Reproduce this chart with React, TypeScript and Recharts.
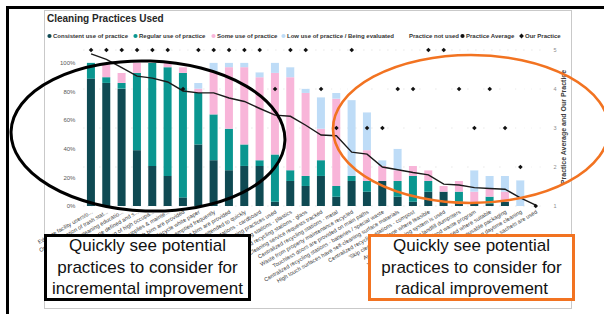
import React from 'react';
import { ComposedChart, Bar, Line, Scatter, XAxis, YAxis, CartesianGrid } from 'recharts';

const practices = [
  'Educate facility users/o...',
  'Optimize location of trash stat...',
  'Provide cleaning educatio...',
  'Cleaning scope defined and s...',
  'Increased cleaning of high occupa...',
  'Cleaning supplies & mainte...',
  'Trash bins are provided',
  'Recycle white paper',
  'Trash emptied frequently',
  'Recycling bins are provided',
  'Spills are attended to quickly',
  'Recycling stations - cardboard',
  'Green cleaning practices used',
  'Recycling stations - plastics',
  'Centralized recycling stations - glass',
  'Cleaning service requests tracked',
  'Centralized recycling stations - metal',
  'Waste from property maintenance recycled',
  'Touchless doors are provided on main paths',
  'Centralized recycling stations - batteries / special waste',
  'High touch surfaces have self-cleaning surface materials',
  'Centralized recycling stations - compost',
  "'Skip cleaning' is done where feasible",
  'Automated dispensing system is used',
  'Volume-based pricing for landfill dumpsters',
  'Organic food waste program',
  'Microfiber cloths used where suitable',
  'Supplies delivered in reusable packaging',
  'Cleaning scheduled during daytime cleaning',
  'Cleaning chemical concentrate sachets are used',
];

// % of respondents per level of use
const consistentUse = [89, 86, 82, 39, 28, 21, 6, 43, 32, 25, 28, 28, 3, 17.5, 14, 21, 6.5, 17.5, 10, 17.5, 6.5, 3, 10, 10, 3, 2, 1.5, 3, 0, 0];
const regularUse = [11, 4, 4, 54, 72, 76, 87, 36, 32, 29, 15, 4, 33, 7.5, 7, 11, 7.5, 3.5, 7.5, 0, 11, 18, 7.5, 0, 7, 0, 5, 0, 0, 0];
const someUse = [0, 10, 7, 7, 0, 3, 4, 3, 30, 43, 54, 58, 57, 65, 58, 22, 61, 0, 21.5, 10.5, 7.5, 7, 7.5, 4, 7.5, 8, 5.5, 7, 0, 0];
const lowUse = [0, 0, 0, 0, 0, 0, 0, 4, 6, 3, 3, 3.5, 7, 7, 3, 22, 4, 53, 26.5, 4, 15, 0, 0, 0, 0, 15, 9, 11, 18, 0];
const notUsed = [0, 0, 7, 0, 0, 0, 3, 14, 0, 0, 0, 6.5, 0, 3, 18, 24, 21, 26, 34.5, 68, 60, 72, 75, 86, 82.5, 75, 79, 79, 82, 100];

// score 1..5
const practiceAverage = [4.9, 4.76, 4.55, 4.33, 4.28, 4.18, 3.95, 3.9, 3.9, 3.77, 3.68, 3.5, 3.33, 3.3, 3.07, 2.82, 2.8, 2.38, 2.33, 2.0, 1.93, 1.86, 1.8, 1.56, 1.54, 1.47, 1.45, 1.43, 1.21, 1.02];
const ourPractice = [5, 5, 5, 5, 5, 5, 4, 5, 5, 5, 5, 5, 4, 5, 5, 4, 3, 5, 3, 3, 4, 4, 5, 5, 4, 3, 4, 3, 2, 1];

const pctTicks = [0, 20, 40, 60, 80, 100];
const scoreTicks = [1, 2, 3, 4, 5];

const DARK = '#0F4A53';
const TEAL = '#0A9690';
const PINK = '#F8B5D9';
const BLUE = '#BEDCF7';
const ORANGE = '#F27321';
const FONT = '"Liberation Sans", Arial, sans-serif';

const data = practices.map((name, i) => ({
  name,
  consistent: consistentUse[i],
  regular: regularUse[i],
  some: someUse[i],
  low: lowUse[i],
  none: notUsed[i],
  avg: practiceAverage[i],
  ours: ourPractice[i],
}));

const legendItems = [
  { label: 'Consistent use of practice', color: DARK, marker: 'circle', left: 47 },
  { label: 'Regular use of practice', color: TEAL, marker: 'circle', left: 133 },
  { label: 'Some use of practice', color: PINK, marker: 'circle', left: 211 },
  { label: 'Low use of practice / Being evaluated', color: BLUE, marker: 'circle', left: 281 },
  { label: 'Practice not used', color: '#ffffff', marker: 'circle', left: 403 },
  { label: 'Practice Average', color: '#111', marker: 'circle', left: 460 },
  { label: 'Our Practice', color: '#111', marker: 'diamond', left: 519 },
];

const XTick = ({ x, y, payload }: any) => {
  const ax = x + 2;
  const ay = y + 5;
  return (
    <text x={ax} y={ay} transform={`rotate(-30 ${ax} ${ay})`} textAnchor="end" fontSize={5.6} fill="#404040" fontFamily={FONT}>
      {payload.value}
    </text>
  );
};

const Diamond = ({ cx, cy }: any) => {
  if (cx == null || cy == null) return null;
  const r = 2.3;
  return <path d={`M${cx},${cy - r}L${cx + r},${cy}L${cx},${cy + r}L${cx - r},${cy}Z`} fill="#111" />;
};

function Callout({ left, color, lines }: { left: number; color: string; lines: string[] }) {
  return (
    <div
      style={{
        position: 'absolute',
        left,
        top: 234,
        width: 201,
        height: 61,
        border: `3px solid ${color}`,
        background: '#fff',
        display: 'flex',
        flexDirection: 'column',
        justifyContent: 'center',
        alignItems: 'center',
        fontFamily: FONT,
        fontSize: 17,
        lineHeight: '21.5px',
        color: '#111',
      }}
    >
      {lines.map((t) => (
        <div key={t}>{t}</div>
      ))}
    </div>
  );
}

export default function App() {
  return (
    <div style={{ position: 'absolute', left: 0, top: 0, width: 604, height: 314, background: '#fff', overflow: 'hidden' }}>
      {/* outer frame */}
      <div style={{ position: 'absolute', left: 6, top: 6, width: 620, height: 330, borderLeft: '3px solid #000', borderTop: '3px solid #000' }} />
      {/* chart frame */}
      <div style={{ position: 'absolute', left: 44, top: 10, width: 526, height: 297, border: '1px solid #c9c9c9' }} />

      <div style={{ position: 'absolute', left: 0, top: 0 }}>
        <ComposedChart width={604} height={314} data={data} margin={{ top: 50, right: 40.6, bottom: 8, left: 53.4 }} barCategoryGap="23%">
          <CartesianGrid yAxisId="score" vertical={false} stroke="#dcdcdc" strokeDasharray="1 7" />
          <XAxis dataKey="name" interval={0} height={100} tick={<XTick />} tickLine={false} axisLine={false} tickSize={0} />
          <YAxis
            yAxisId="pct"
            width={30}
            domain={[0, 109]}
            ticks={pctTicks}
            tickFormatter={(v: number) => `${v}%`}
            axisLine={false}
            tickLine={false}
            tickSize={0}
            tickMargin={8}
            tick={{ fontSize: 6, fill: '#595959', fontFamily: FONT }}
          />
          <YAxis
            yAxisId="score"
            orientation="right"
            width={20}
            domain={[1, 5]}
            ticks={scoreTicks}
            axisLine={false}
            tickLine={false}
            tickSize={0}
            tickMargin={10}
            tick={{ fontSize: 5.5, fill: '#8c8c8c', fontFamily: FONT }}
          />
          <Bar yAxisId="pct" dataKey="consistent" stackId="a" fill={DARK} isAnimationActive={false} />
          <Bar yAxisId="pct" dataKey="regular" stackId="a" fill={TEAL} isAnimationActive={false} />
          <Bar yAxisId="pct" dataKey="some" stackId="a" fill={PINK} isAnimationActive={false} />
          <Bar yAxisId="pct" dataKey="low" stackId="a" fill={BLUE} isAnimationActive={false} />
          <Bar yAxisId="pct" dataKey="none" stackId="a" fill="#ffffff" isAnimationActive={false} />
          <Line yAxisId="score" dataKey="avg" type="linear" stroke="#1a1a1a" strokeWidth={1.4} dot={false} isAnimationActive={false} />
          <Scatter yAxisId="score" dataKey="ours" shape={<Diamond />} isAnimationActive={false} />
        </ComposedChart>
      </div>

      {/* title + legend */}
      <div style={{ position: 'absolute', left: 47, top: 13, fontFamily: FONT, fontWeight: 700, fontSize: 10, color: '#262626' }}>
        Cleaning Practices Used
      </div>
      {legendItems.map((it) => (
        <div
          key={it.label}
          style={{
            position: 'absolute',
            left: it.left,
            top: 33,
            display: 'flex',
            alignItems: 'center',
            fontFamily: FONT,
            fontWeight: 700,
            fontSize: 6,
            color: '#333',
            whiteSpace: 'nowrap',
          }}
        >
          <svg width={5} height={6} style={{ marginRight: 1 }}>
            {it.marker === 'circle' ? (
              <circle cx={2.5} cy={3} r={2.1} fill={it.color} />
            ) : (
              <path d="M2.5,0.6L4.9,3L2.5,5.4L0.1,3Z" fill={it.color} />
            )}
          </svg>
          {it.label}
        </div>
      ))}
      <svg style={{ position: 'absolute', left: 0, top: 0 }} width={604} height={314}>
        <text
          x={564}
          y={127}
          transform="rotate(-90 564 127)"
          textAnchor="middle"
          dominantBaseline="middle"
          fontSize={7}
          fontWeight={700}
          fill="#404040"
          fontFamily={FONT}
        >
          Practice Average and Our Practice
        </text>
        <ellipse cx={148} cy={136} rx={137} ry={75} transform="rotate(2 148 136)" fill="none" stroke="#000" strokeWidth={3} />
        <ellipse cx={471} cy={129} rx={138} ry={74} fill="none" stroke={ORANGE} strokeWidth={2.6} />
      </svg>

      <Callout left={44} color="#000" lines={['Quickly see potential', 'practices to consider for', 'incremental improvement']} />
      <Callout left={368} color={ORANGE} lines={['Quickly see potential', 'practices to consider for', 'radical improvement']} />
    </div>
  );
}
